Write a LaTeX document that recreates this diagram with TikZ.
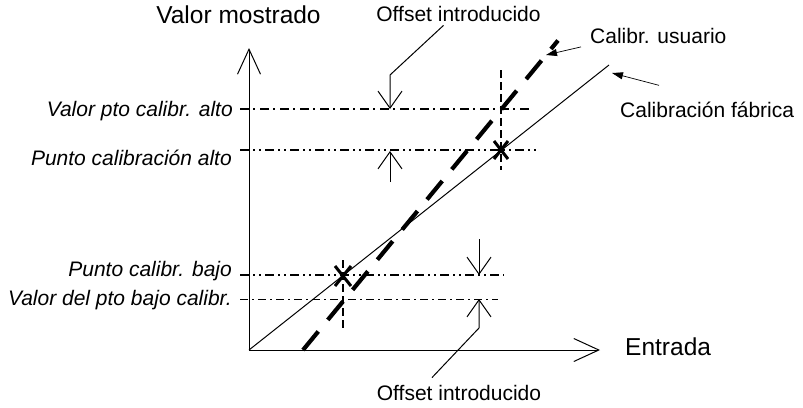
\documentclass[tikz,border=0pt]{standalone}
\usepackage{fontspec}
\setmainfont{Liberation Sans}
\usetikzlibrary{arrows.meta, calc}

\begin{document}
\begin{tikzpicture}[
  x=1pt, y=-1pt,
  lbl/.style={inner sep=0pt, font=\fontsize{21}{25}\selectfont},
  ilbl/.style={inner sep=0pt, anchor=base east,
    font=\fontsize{21}{25}\selectfont\itshape},
  big/.style={inner sep=0pt, font=\fontsize{24.5}{29}\selectfont},
  axis/.style={line width=1pt, -{Straight Barb[length=25pt, width=23pt]}},
  lvl/.style={line width=2pt, dash pattern=on 9pt off 4pt on 2pt off 5pt},
  lvldd/.style={line width=2pt,
    dash pattern=on 9pt off 4pt on 2pt off 4pt on 2pt off 4pt},
  lvlthin/.style={line width=0.9pt, dash pattern=on 8pt off 4pt on 2pt off 4pt},
  guide/.style={line width=2pt, dash pattern=on 8pt off 4pt},
  calx/.style={line width=3pt},
  factory/.style={line width=1pt},
  user/.style={line width=4.2pt, dash pattern=on 24pt off 15pt},
  ptr/.style={line width=1pt, -{Straight Barb[length=17pt, width=24pt]}},
  callout/.style={line width=0.7pt, -{Triangle[length=11pt, width=7pt]}},
]
  \useasboundingbox (0,0) rectangle (803,407);

  % ── Axes ────────────────────────────────────────────────────────────────
  \coordinate (O)    at (249,350);
  \coordinate (ytop) at (249,48);
  \coordinate (xend) at (600,350);
  \node[big, anchor=base]      (ylab) at (238.5,23) {Valor mostrado};
  \node[big, anchor=base west] (xlab) at (625,355)  {Entrada};

  % ── Level lines and their labels ────────────────────────────────────────
  \node[ilbl] (vhigh) at (233,116) {Valor pto calibr. alto};
  \node[ilbl] (phigh) at (232,165) {Punto calibración alto};
  \node[ilbl] (plow)  at (232,276) {Punto calibr. bajo};
  \node[ilbl] (vlow)  at (232,305) {Valor del pto bajo calibr.};

  \coordinate (vh1) at (240,109); \coordinate (vh2) at (532,109);
  \coordinate (ph1) at (240,150); \coordinate (ph2) at (538,150);
  \coordinate (pl1) at (240,275); \coordinate (pl2) at (504,275);
  \coordinate (vl1) at (240,299); \coordinate (vl2) at (498,299);
  \draw[lvl]     (vh1) -- (vh2);
  \draw[lvldd]   (ph1) -- (ph2);
  \draw[lvldd]   (pl1) -- (pl2);
  \draw[lvlthin] (vl1) -- (vl2);

  % ── Calibration points ──────────────────────────────────────────────────
  \coordinate (Phi) at (501,150);
  \coordinate (Plo) at (343,276);
  \draw[guide] (501,70) -- (501,170);
  \draw[guide] (343,260) -- (343,328);

  % ── Calibration lines ───────────────────────────────────────────────────
  \coordinate (fend)  at (609,65);
  \coordinate (ustart) at (303,350);
  \coordinate (uend)  at (558,40.5);
  \draw[factory] (O) -- (fend);
  \draw[user]    (ustart) -- (uend);

  \draw[calx] (Phi) ++(-7,-9) -- ++(14,18) (Phi) ++(7,-9) -- ++(-14,18);
  \draw[calx] (Plo) ++(-8,-10) -- ++(16,20) (Plo) ++(8,-10) -- ++(-16,20);

  \draw[axis] (O) -- (ytop);
  \draw[axis] (O) -- (xend);

  % ── Line callouts ───────────────────────────────────────────────────────
  \node[lbl, anchor=base west] (usr) at (590,43)  {Calibr. usuario};
  \node[lbl, anchor=base west] (fab) at (620,117) {Calibración fábrica};
  \draw[callout] ($(usr.south west)+(-9,3.5)$) -- (546,55);
  \draw[callout] ($(fab.north west)+(39,-16)$) -- (612,73);

  % ── Offsets ─────────────────────────────────────────────────────────────
  \node[lbl, anchor=base] (offtop) at (458.5,21) {Offset introducido};
  \node[lbl, anchor=base] (offbot) at (459,400)  {Offset introducido};

  \coordinate (hk) at (390,75);
  \coordinate (hu) at (390,182);
  \draw[ptr] ($(offtop.south)+(-15,4)$) -- (hk) -- (hk |- vh1);
  \draw[ptr] (hu) -- ($(hu |- ph1)+(0,1)$);

  \coordinate (lk) at (479,328);
  \coordinate (ld) at (479,239);
  \draw[ptr] ($(offbot.north)+(-27,-7)$) -- (lk) -- (lk |- vl1);
  \draw[ptr] (ld) -- (ld |- pl1);
\end{tikzpicture}
\end{document}
